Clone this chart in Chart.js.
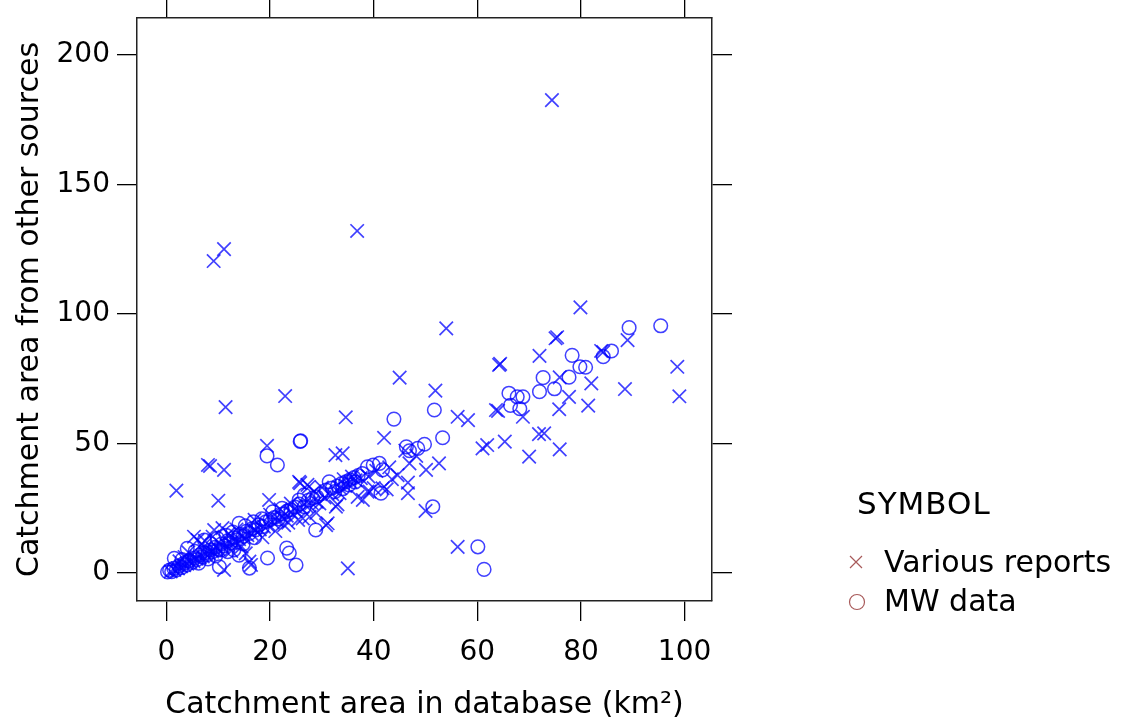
<!DOCTYPE html>
<html>
<head>
<meta charset="utf-8">
<script src="https://cdn.jsdelivr.net/npm/chart.js@4.4.1/dist/chart.umd.min.js"></script>
<style>
    body { margin: 0; background: #fff; }
    #wrap { position: relative; width: 1128px; height: 722px; font-family: "DejaVu Sans", sans-serif; }
    #chart { position: absolute; left: 0; top: 0; }
    .legend-title, .legend-item { position: absolute; font-size: 30px; line-height: 30px; color: #000; white-space: nowrap; }
    .legend-title { font-size: 31px; letter-spacing: 1px; }
    .legend-item svg { position: absolute; left: -36px; top: 7px; }
</style>
</head>
<body>
<div id="wrap">
    <canvas id="chart" width="1128" height="722"></canvas>
    <div class="legend-title" style="left: 857px; top: 488px;">SYMBOL</div>
    <div class="legend-item" style="left: 884px; top: 547px;">
        <svg width="16" height="16"><path d="M2 2 L14 14 M14 2 L2 14" stroke="#a85a5a" stroke-width="1.2"/></svg>Various reports
    </div>
    <div class="legend-item" style="left: 884px; top: 586px;">
        <svg width="18" height="18"><circle cx="9" cy="9" r="7.5" fill="none" stroke="#a85a5a" stroke-width="1.2"/></svg>MW data
    </div>
</div>
<script>
// tick values
const xTicks = [0, 20, 40, 60, 80, 100];
const yTicks = [0, 50, 100, 150, 200];

// [area in database, area from other sources]
const variousReports = [
    [74.4, 182.5], [36.8, 132], [9.1, 120.4], [11.1, 125], [11.4, 64], [22.9, 68.3],
    [54, 94.4], [79.9, 102.5], [45, 75.4], [75.1, 90.6], [75.4, 91], [64.2, 80.3],
    [64.4, 80.7], [72, 83.8], [98.6, 79.6], [99, 68.2], [83.9, 85.7], [84.3, 85.3],
    [89, 89.9], [34.6, 60.1], [56.2, 60.3], [58.2, 59], [51.9, 70.4], [63.6, 62.9],
    [61, 48.1], [61.9, 49.4], [42, 52.2], [32.6, 45.5], [34, 46.2], [1.9, 31.8],
    [8, 41.7], [8.4, 41.3], [11.1, 39.8], [10, 27.9], [19.8, 28.2], [19.4, 49.1],
    [25.8, 34.7], [27.5, 33.3], [16.3, 3.1], [11.1, 1.2], [35, 1.8], [56.2, 10.1],
    [75.9, 75.5], [82, 73.2], [88.5, 71], [77.7, 68], [68.8, 60.3], [64, 62.6],
    [75.8, 63.2], [81.4, 64.6], [71.9, 53.6], [72.9, 53.9], [70, 44.9], [75.9, 47.7],
    [65.3, 50.7], [46.1, 47.2], [48.2, 45.2], [46.9, 42.3], [50.1, 39.8], [52.6, 42.3],
    [44.6, 37.8], [46.6, 34.9], [46.6, 30.8], [41.7, 32.7], [42.5, 32.3], [38.8, 31.4],
    [33.4, 30.8], [32.7, 25.6], [36.9, 29.4], [37.9, 28.2], [39.2, 31.4], [29.5, 26.9],
    [31.1, 19.2], [50, 24], [28.9, 23.2], [30.8, 18.5], [25.4, 20.5], [26.3, 21.1],
    [27.6, 21.7], [22.7, 18.5], [5.3, 14], [6, 12.7], [9.2, 16.6], [8.9, 14],
    [10.8, 17.3], [16, 4.4], [15.3, 7.6], [25.6, 35.2], [27.2, 34],
    [0.8, 0.6], [1.5, 1.2], [2.2, 1.8], [2.8, 2.6], [3.4, 3], [4, 3.6], [4.6, 4.3],
    [5.2, 4.6], [5.8, 5.5], [6.4, 6], [7, 6.4], [7.6, 7.2], [8.2, 7.5], [8.8, 8.3],
    [9.4, 8.8], [10, 9.3], [10.8, 10], [11.6, 10.7], [12.4, 11.6], [13.2, 12.2],
    [14, 13.1], [14.8, 13.6], [15.6, 14.6], [16.4, 15.2], [17.2, 16.3], [18, 16.8],
    [18.8, 17.9], [19.6, 18.4], [20.5, 19.6], [21.4, 20.2], [22.3, 21.5], [23.2, 22.1],
    [24.1, 23.4], [25, 24], [26, 25.2], [27, 25.8], [28, 27], [29, 27.5], [30.5, 29.2],
    [32, 30.4], [33.5, 32.8], [34.5, 33.6], [35.5, 35.2], [36.5, 35.8], [37.5, 36.6],
    [39, 37.2], [40.5, 39.4], [43, 40.8],
    [2.5, 4.5], [3.5, 6.2], [4.2, 8], [6.8, 11.2], [7.4, 12.4], [12, 15.2], [13.5, 16.8],
    [17, 20.5], [20, 22.5], [22, 24.6], [24, 26.8], [28.5, 31.5], [30, 33], [34.2, 36.2],
    [35.8, 37.2], [12.5, 8.5], [14.5, 10.2], [18.5, 13.8], [21, 16.2], [23.5, 19.4],
    [33, 26.5], [40, 32.8], [43.5, 36.2]
];

const mwData = [
    [19.4, 45.2], [21.4, 41.7], [25.8, 50.8], [25.9, 51], [23.2, 9.6], [23.7, 7.7],
    [19.5, 5.8], [25, 3.1], [10.2, 2.4], [16, 1.9], [60.1, 10.1], [61.3, 1.4],
    [51.4, 25.6], [28.8, 16.6], [43.9, 59.4], [51.7, 62.9], [53.3, 52.2], [46.3, 48.7],
    [46.9, 47.2], [48.5, 48.1], [49.8, 49.7], [38.8, 41], [39.9, 41.7], [41.1, 42.3],
    [41.7, 39.8], [41.4, 30.8], [89.3, 94.7], [95.4, 95.4], [78.3, 84], [84.3, 83.5],
    [85.9, 85.7], [79.8, 79.6], [80.9, 79.4], [72.7, 75.4], [77.7, 75.6], [74.9, 71.1],
    [72, 70], [66.1, 69.4], [67.7, 68], [68.8, 68], [66.4, 64.7], [68.2, 63.4],
    [1.5, 5.7], [4, 9.5], [7.3, 12.7], [14, 19.2], [31.4, 35.2], [30.8, 32],
    [10.5, 8.9], [13, 8.9], [14, 6.9],
    [0.2, 0.4], [0.6, 1.1], [1, 0.5], [1.4, 1.8], [1.9, 1.2], [2.4, 2.7], [2.9, 2.1],
    [3.4, 3.8], [3.9, 3.1], [4.4, 4.8], [4.9, 4.1], [5.4, 5.8], [5.9, 5.2], [6.4, 6.9],
    [6.9, 6.2], [7.4, 7.8], [7.9, 7.1], [8.4, 8.9], [8.9, 8.2], [9.4, 9.9], [10, 9.1],
    [10.6, 11.2], [11.2, 10.5], [11.8, 12.4], [12.4, 11.6], [13, 13.6], [13.6, 12.8],
    [14.2, 14.9], [14.8, 14.1], [15.4, 16.1], [16, 15.3], [16.6, 17.2], [17.2, 16.6],
    [17.8, 18.5], [18.5, 17.9], [19.2, 19.8], [20, 20.6], [20.8, 21.4], [21.6, 20.9],
    [22.4, 22.8], [23.2, 23.8], [24, 24.4], [24.8, 25.5], [25.6, 26.6], [26.6, 25.6],
    [27.4, 28.1], [28.2, 28.9], [29, 29.4], [29.8, 30.5], [32, 32.8], [33, 33.6],
    [33.8, 34.5], [34.6, 35.2], [35.4, 36], [36.2, 36.8], [37, 37.6], [37.8, 38.4],
    [25.6, 28.2], [26.6, 30.2], [32.5, 31.4], [34, 32.5], [35.2, 34], [36.4, 35.1],
    [3, 5.2], [5.5, 8.4], [8.5, 11.4], [9.8, 13.4], [11.5, 14.6], [12.8, 15.8],
    [15.2, 18.2], [16.8, 19.8], [18.4, 20.9], [20.5, 23.6], [22.3, 25], [6.2, 3.8],
    [8, 5.4], [9.5, 6.6], [11.8, 8.2], [14.8, 11.2], [17, 13.6]
];

const pointColor = 'rgba(0, 0, 255, 0.75)';
const fontFamily = '"DejaVu Sans", sans-serif';

function toPoints(list) {
    return list.map(p => ({ x: p[0], y: p[1] }));
}

function boxAxis(position, min, max, ticks, size, extra) {
    const horizontal = position === 'top' || position === 'bottom';
    return Object.assign({
        type: 'linear',
        position: position,
        min: min,
        max: max,
        afterBuildTicks: function(scale) {
            scale.ticks = ticks.map(v => ({ value: v }));
        },
        afterFit: function(scale) {
            if (horizontal) scale.height = size; else scale.width = size;
        },
        grid: {
            drawOnChartArea: false,
            drawTicks: true,
            tickLength: 20,
            color: '#000',
            lineWidth: 1.3
        },
        border: { display: true, color: '#222', width: 1.5 },
        ticks: { display: false }
    }, extra || {});
}

const ctx = document.getElementById('chart').getContext('2d');
new Chart(ctx, {
    type: 'scatter',
    data: {
        datasets: [
            {
                label: 'Various reports',
                data: toPoints(variousReports),
                pointStyle: 'crossRot',
                pointRadius: 9.5,
                borderColor: pointColor,
                backgroundColor: pointColor,
                pointBorderWidth: 1.7
            },
            {
                label: 'MW data',
                data: toPoints(mwData),
                pointStyle: 'circle',
                pointRadius: 6.8,
                borderColor: pointColor,
                backgroundColor: 'rgba(0,0,0,0)',
                pointBorderWidth: 1.5
            }
        ]
    },
    options: {
        responsive: false,
        devicePixelRatio: 1,
        animation: false,
        layout: { padding: { left: 0, right: 396, top: 0, bottom: 0 } },
        plugins: {
            legend: { display: false },
            tooltip: { enabled: false }
        },
        scales: {
            x: boxAxis('bottom', -5.7, 105.3, xTicks, 121, {
                ticks: { display: true, color: '#000', padding: 15, font: { family: fontFamily, size: 28 } },
                title: {
                    display: true,
                    text: 'Catchment area in database (km²)',
                    color: '#000',
                    padding: { top: 0, bottom: -1 },
                    font: { family: fontFamily, size: 30 }
                }
            }),
            x2: boxAxis('top', -5.7, 105.3, xTicks, 18, { grid: {
                drawOnChartArea: false, drawTicks: true, tickLength: 18, color: '#000', lineWidth: 1.3
            } }),
            y: boxAxis('left', -10.8, 214.2, yTicks, 137, {
                ticks: { display: true, color: '#000', padding: 7, font: { family: fontFamily, size: 28, lineHeight: 0.5 } },
                title: {
                    display: true,
                    text: 'Catchment area from other sources',
                    color: '#000',
                    padding: { top: 12, bottom: 0 },
                    font: { family: fontFamily, size: 30 }
                }
            }),
            y2: boxAxis('right', -10.8, 214.2, yTicks, 20)
        }
    }
});
</script>
</body>
</html>
